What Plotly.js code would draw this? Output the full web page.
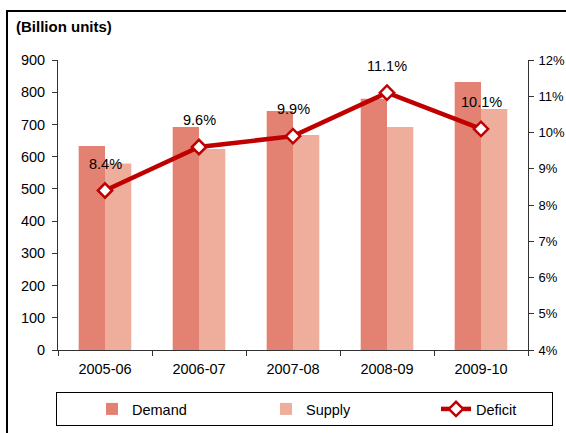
<!DOCTYPE html>
<html><head><meta charset="utf-8">
<script src="https://cdn.plot.ly/plotly-3.0.1.min.js"></script>
<style>html,body{margin:0;padding:0;background:#fff;} #chart{width:566px;height:433px;}</style>
</head><body><div id="chart"></div>
<script>
const categories = ['2005-06', '2006-07', '2007-08', '2008-09', '2009-10'];
const demand = [633, 692, 742, 780, 832];
const supply = [579, 624, 667, 692, 748];
const deficit = [8.4, 9.6, 9.9, 11.1, 10.1];
const deficitLabels = ['8.4%', '9.6%', '9.9%', '11.1%', '10.1%'];
const unitLabel = '(Billion units)';

const FONT = 'Liberation Sans, Arial, sans-serif';
const FS = 14.5;

const traces = [
  {type: 'bar', name: 'Demand', x: categories, y: demand, marker: {color: '#E38272'}, yaxis: 'y',
   legendwidth: 94, hoverinfo: 'skip'},
  {type: 'bar', name: 'Supply', x: categories, y: supply, marker: {color: '#EFAE9B'}, yaxis: 'y',
   legendwidth: 90, hoverinfo: 'skip'},
  {type: 'scatter', mode: 'lines+markers', name: 'Deficit', x: categories, y: deficit, yaxis: 'y2',
   line: {color: '#C00000', width: 4.5},
   marker: {symbol: 'diamond', size: 11, color: '#FFFFFF', line: {color: '#C00000', width: 2.5}},
   legendwidth: 71, hoverinfo: 'skip'}
];

const annotations = categories.map((c, i) => ({
  x: c, y: deficit[i], xref: 'x', yref: 'y2', text: deficitLabels[i],
  showarrow: false, yshift: 27, font: {family: FONT, size: FS, color: '#000'}
}));
annotations.push({
  xref: 'paper', yref: 'paper', x: (14 - 58) / 470, y: (350 - 26) / 290,
  xanchor: 'left', yanchor: 'middle', text: '<b>' + unitLabel + '</b>', showarrow: false,
  font: {family: FONT, size: 15, color: '#000'}
});

const layout = {
  width: 566, height: 433,
  margin: {l: 58, r: 38, t: 60, b: 83, pad: 0, autoexpand: false},
  paper_bgcolor: '#fff', plot_bgcolor: '#fff',
  font: {family: FONT, size: FS, color: '#000'},
  barmode: 'group', bargap: 0.44, bargroupgap: 0,
  showlegend: true,
  legend: {
    orientation: 'h', x: (56 - 58) / 470, xanchor: 'left', y: (350 - 392) / 290, yanchor: 'top',
    bordercolor: '#000', borderwidth: 1, bgcolor: '#fff', indentation: 35,
    font: {family: FONT, size: FS, color: '#000'}, traceorder: 'normal'
  },
  xaxis: {
    type: 'category', showgrid: false, zeroline: false, showline: true, linecolor: '#333', linewidth: 1,
    ticks: 'outside', tickson: 'boundaries', ticklen: 5, tickcolor: '#333', ticklabelstandoff: 6,
    tickfont: {family: FONT, size: FS, color: '#000'}
  },
  yaxis: {
    range: [0, 900], dtick: 100, showgrid: false, zeroline: false, showline: true, linecolor: '#333', linewidth: 1,
    ticks: 'outside', ticklen: 5, tickcolor: '#333', ticklabelstandoff: 4,
    tickfont: {family: FONT, size: FS, color: '#000'}
  },
  yaxis2: {
    range: [4, 12], dtick: 1, ticksuffix: '%', overlaying: 'y', side: 'right', showgrid: false, zeroline: false,
    showline: true, linecolor: '#333', linewidth: 1, ticks: 'outside', ticklen: 5, tickcolor: '#333', ticklabelstandoff: 2,
    tickfont: {family: FONT, size: 13, color: '#000'}
  },
  annotations: annotations,
  shapes: [{
    type: 'rect', xref: 'paper', yref: 'paper', x0: (7 - 58) / 470, x1: 1.3, y0: -0.6, y1: (350 - 11) / 290,
    line: {color: '#000', width: 2}, fillcolor: 'rgba(0,0,0,0)', layer: 'below'
  }]
};

Plotly.newPlot('chart', traces, layout, {displayModeBar: false, staticPlot: true});
</script>
</body></html>
